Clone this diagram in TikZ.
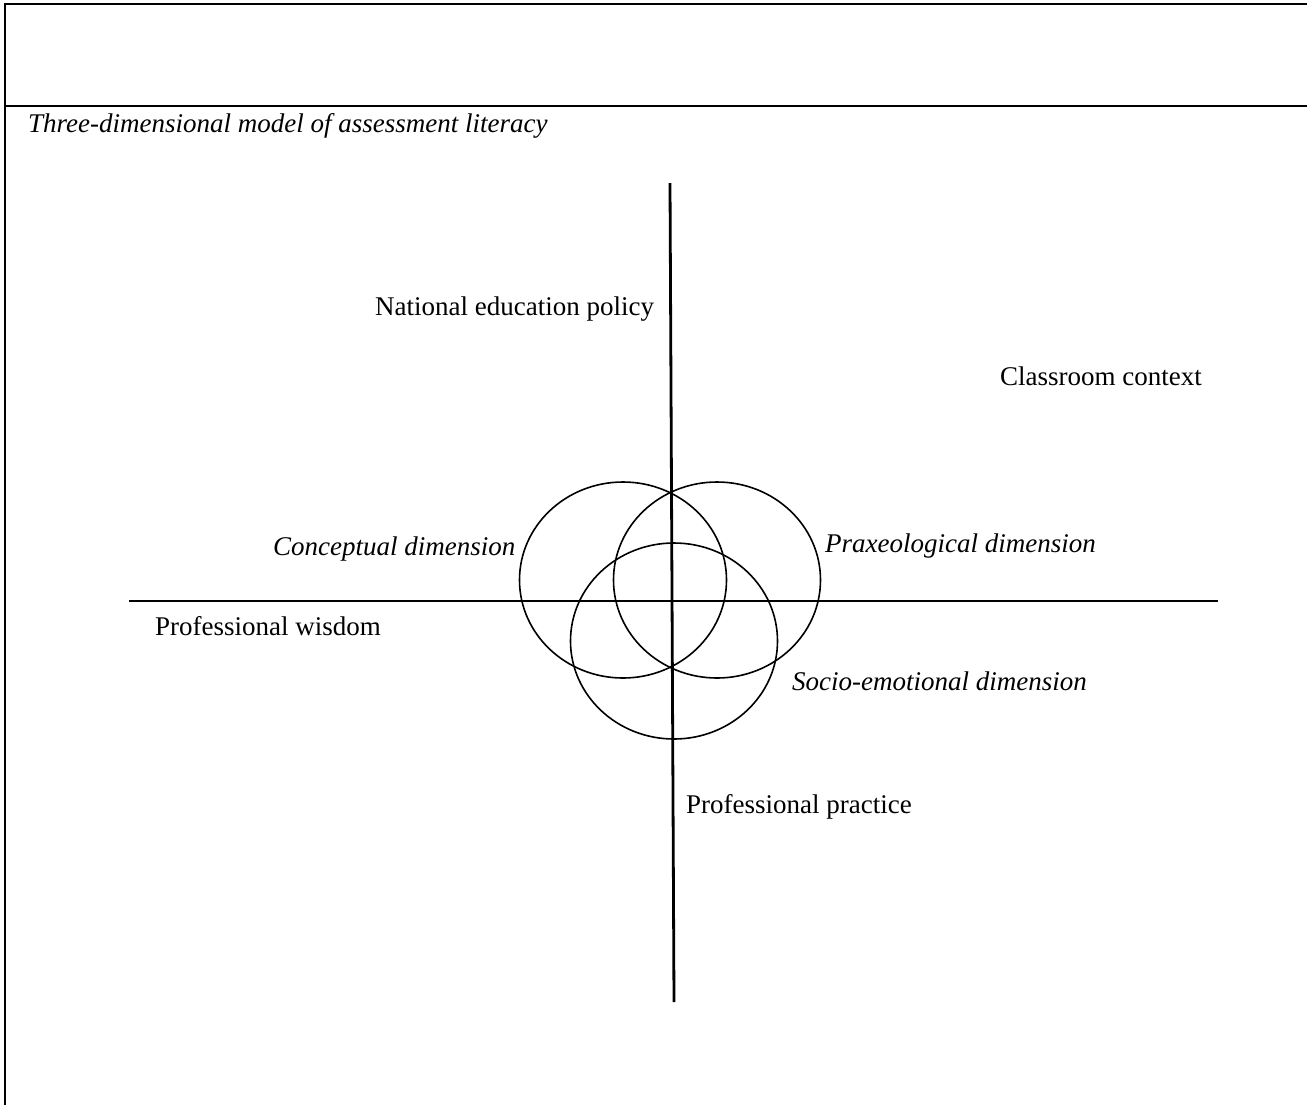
\documentclass[tikz,border=0pt]{standalone}
\usepackage{fontspec}
\setmainfont{Liberation Serif}
\usetikzlibrary{shapes.geometric}
\begin{document}
\begin{tikzpicture}[x=1pt,y=-1pt,
  lbl/.style={anchor=base west,inner sep=0pt,font=\fontsize{27}{32}\selectfont},
  ilbl/.style={lbl,font=\fontsize{27}{32}\selectfont\itshape},
  frameline/.style={line width=2.6pt,black},
  axis/.style={line width=2.8pt,black},
  ring/.style={draw,ellipse,line width=1.6pt,minimum width=207pt,minimum height=196pt,inner sep=0pt}]
\useasboundingbox (0,0) rectangle (1307,1104);
% frame
\coordinate (ftl) at (5,4);
\coordinate (ftr) at (1310,4);
\coordinate (fbl) at (5,1108);
\coordinate (fsl) at (5,106);
\coordinate (fsr) at (1310,106);
\draw[frameline] (ftr) -- (ftl) -- (fbl);
\draw[frameline] (fsl) -- (fsr);
% title
\node[ilbl] (title) at (28,132) {Three-dimensional model of assessment literacy};
% axes
\coordinate (vtop) at (670,183);
\coordinate (vbot) at (674,1002);
\coordinate (hleft) at (129,601);
\coordinate (hright) at (1218,601);
\draw[axis] (vtop) -- (vbot);
\draw[axis] (hleft) -- (hright);
% circles
\node[ring] (conc) at (623,580) {};
\node[ring] (prax) at (717,580) {};
\node[ring] (socio) at (674,641) {};
% labels
\node[lbl] (nep) at (375,315) {National education policy};
\node[lbl] (cc) at (1000,385) {Classroom context};
\node[ilbl] (cd) at (273,555) {Conceptual dimension};
\node[ilbl] (pd) at (825,552) {Praxeological dimension};
\node[lbl] (pw) at (155,635) {Professional wisdom};
\node[ilbl] (sd) at (792,690) {Socio-emotional dimension};
\node[lbl] (pp) at (686,813) {Professional practice};
\end{tikzpicture}
\end{document}
